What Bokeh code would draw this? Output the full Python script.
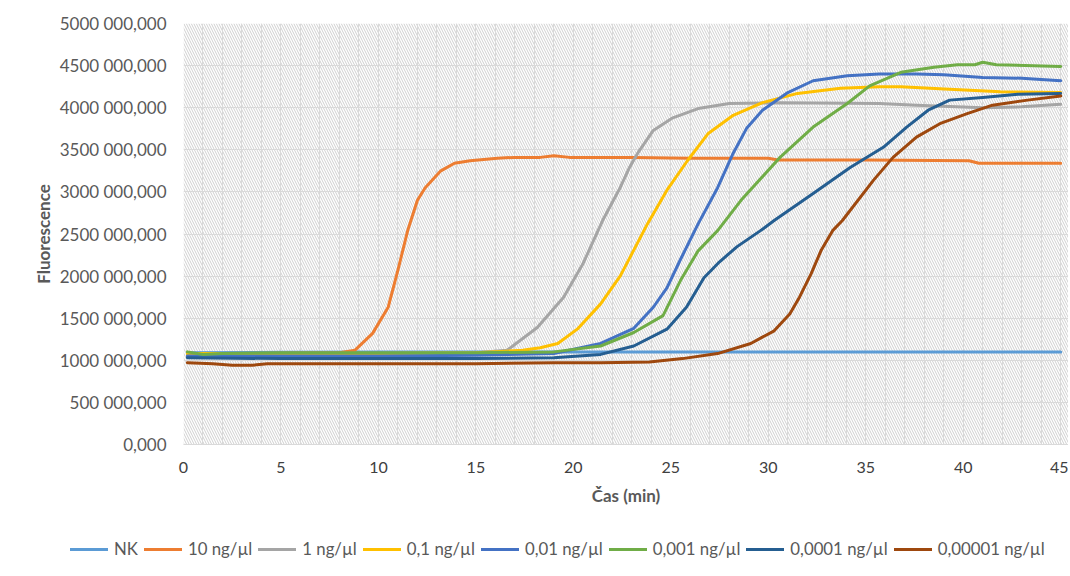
from bokeh.plotting import figure
from bokeh.layouts import column
from bokeh.models import (FixedTicker, CustomJSTickFormatter, BoxAnnotation, Div)
from bokeh.embed import file_html
from bokeh.resources import INLINE

# ---- data (time in min, fluorescence) ----
series_names = ["NK", "10 ng/µl", "1 ng/µl", "0,1 ng/µl", "0,01 ng/µl",
                "0,001 ng/µl", "0,0001 ng/µl", "0,00001 ng/µl"]
series_colors = ["#5B9BD5", "#ED7D31", "#A5A5A5", "#FFC000", "#4472C4",
                 "#70AD47", "#255E91", "#9E480E"]

t_nk = [0.2, 5, 10, 15, 20, 25, 30, 35, 40, 45]
v_nk = [1090000, 1095000, 1100000, 1100000, 1100000, 1100000, 1100000, 1100000, 1100000, 1100000]

t_10 = [0.2, 4, 8, 8.8, 9.7, 10.5, 11.0, 11.5, 12.0, 12.4, 13.2, 13.9, 14.7, 16.1,
        17, 18.3, 19.0, 19.8, 23, 26, 30, 30.5, 35, 40.3, 40.8, 45]
v_10 = [1070000, 1080000, 1090000, 1120000, 1320000, 1630000, 2070000, 2540000, 2900000,
        3050000, 3250000, 3340000, 3370000, 3400000, 3410000, 3410000, 3430000, 3410000,
        3410000, 3400000, 3400000, 3380000, 3380000, 3370000, 3340000, 3340000]

t_1 = [0.2, 5, 10, 15, 16.6, 18.15, 19.5, 20.5, 21.5, 22.4, 22.9, 23.3, 24.1, 25.1, 26.4,
       28, 30.6, 35.7, 37.6, 41, 43, 45]
v_1 = [1080000, 1080000, 1080000, 1090000, 1120000, 1390000, 1750000, 2150000, 2660000,
       3050000, 3300000, 3460000, 3730000, 3880000, 3990000, 4050000, 4060000, 4050000,
       4030000, 4000000, 4010000, 4040000]

t_01 = [0.2, 5, 10, 15, 17.4, 18.3, 19.2, 20.2, 21.4, 22.4, 22.9, 23.8, 24.8, 25.85,
        26.9, 28.2, 29.7, 31.5, 33.7, 35.7, 36.8, 39.3, 41.9, 45]
v_01 = [1080000, 1080000, 1080000, 1090000, 1120000, 1150000, 1200000, 1370000, 1670000,
        2000000, 2220000, 2620000, 3020000, 3370000, 3690000, 3910000, 4060000, 4170000,
        4230000, 4250000, 4250000, 4220000, 4190000, 4180000]

t_001 = [0.2, 5, 10, 15, 19, 21.4, 23.1, 24.1, 24.8, 25.5, 26.4, 27.4, 28.2, 28.9, 29.7,
         31.0, 32.3, 34.05, 35.7, 37.6, 39, 41, 43, 45]
v_001 = [1050000, 1050000, 1050000, 1060000, 1080000, 1200000, 1380000, 1630000, 1860000,
         2200000, 2620000, 3050000, 3460000, 3760000, 3970000, 4180000, 4320000, 4380000,
         4400000, 4400000, 4390000, 4360000, 4350000, 4320000]

t_0001 = [0.2, 1, 2, 5, 10, 15, 19, 21.4, 23.1, 24.6, 25.5, 26.4, 27.4, 28.6, 30.6, 32.3,
          34.05, 35.2, 36.8, 38.5, 39.7, 40.6, 41, 41.7, 45]
v_0001 = [1100000, 1070000, 1080000, 1090000, 1090000, 1090000, 1100000, 1170000, 1330000,
          1530000, 1950000, 2300000, 2540000, 2900000, 3410000, 3770000, 4050000, 4260000,
          4420000, 4480000, 4510000, 4510000, 4540000, 4510000, 4490000]

t_00001 = [0.2, 5, 10, 15, 19, 21.4, 23.1, 24.8, 25.8, 26.7, 27.5, 28.4, 29.6, 30.3, 32.3,
           34.2, 35.9, 37.1, 38.2, 39.3, 41, 42.8, 45]
v_00001 = [1030000, 1020000, 1020000, 1020000, 1030000, 1070000, 1170000, 1370000, 1630000,
           1980000, 2170000, 2350000, 2540000, 2660000, 2980000, 3290000, 3530000, 3770000,
           3970000, 4090000, 4120000, 4160000, 4170000]

t_000001 = [0.2, 1.5, 2.5, 3.5, 4.3, 5, 10, 15, 19, 21.4, 23.9, 25.6, 27.4, 29.1, 30.3,
            31.1, 31.6, 32.2, 32.7, 33.3, 33.8, 35.4, 36.4, 37.6, 38.8, 40.2, 41.5, 43.3, 45]
v_000001 = [970000, 960000, 940000, 940000, 960000, 960000, 960000, 960000, 970000, 970000,
            980000, 1020000, 1080000, 1200000, 1350000, 1550000, 1750000, 2030000, 2300000,
            2540000, 2660000, 3140000, 3410000, 3650000, 3810000, 3930000, 4030000, 4090000,
            4140000]

series_t = [t_nk, t_10, t_1, t_01, t_001, t_0001, t_00001, t_000001]
series_v = [v_nk, v_10, v_1, v_01, v_001, v_0001, v_00001, v_000001]

x_ticks = [0, 5, 10, 15, 20, 25, 30, 35, 40, 45]
y_ticks = [0, 500000, 1000000, 1500000, 2000000, 2500000, 3000000, 3500000, 4000000,
           4500000, 5000000]

FONT = "Lato"
GRAY = "#595959"
W = 1068

p = figure(width=W, height=512, x_range=(0, 45.4), y_range=(0, 5000000),
           output_backend="svg", toolbar_location=None,
           min_border_left=183, min_border_right=0, min_border_top=23,
           min_border_bottom=68)
p.outline_line_color = None
p.background_fill_color = "white"

hatch = BoxAnnotation(fill_color="white", fill_alpha=1, line_color=None,
                      hatch_pattern="\\", hatch_color="#cfcfcf", hatch_weight=1,
                      hatch_scale=5, level="image")
p.add_layout(hatch)

p.xgrid.ticker = FixedTicker(ticks=list(range(0, 46)))
p.xgrid.grid_line_color = "#d9d9d9"
p.xgrid.grid_line_width = 1
p.ygrid.ticker = FixedTicker(ticks=y_ticks)
p.ygrid.grid_line_color = "#d9d9d9"
p.ygrid.grid_line_width = 1

# x axis
p.xaxis.ticker = FixedTicker(ticks=x_ticks)
p.xaxis.axis_line_color = "#d9d9d9"
p.xaxis.major_tick_line_color = None
p.xaxis.minor_tick_line_color = None
p.xaxis.major_label_text_font = FONT
p.xaxis.major_label_text_font_size = "16px"
p.xaxis.major_label_text_color = "#404040"
p.xaxis.major_label_standoff = 11
p.xaxis.axis_label = "Čas (min)"
p.xaxis.axis_label_text_font = FONT
p.xaxis.axis_label_text_font_style = "bold"
p.xaxis.axis_label_text_font_size = "17px"
p.xaxis.axis_label_text_color = GRAY
p.xaxis.axis_label_standoff = 9

# y axis
p.yaxis.ticker = FixedTicker(ticks=y_ticks)
p.yaxis.axis_line_color = None
p.yaxis.major_tick_line_color = None
p.yaxis.minor_tick_line_color = None
p.yaxis.major_label_text_font = FONT
p.yaxis.major_label_text_font_size = "17px"
p.yaxis.major_label_text_color = GRAY
p.yaxis.major_label_standoff = 11
p.yaxis.formatter = CustomJSTickFormatter(code="""
    const t = Math.round(tick);
    if (t === 0) return "0,000";
    const th = Math.floor(t / 1000);
    const r = t % 1000;
    return (th > 0 ? th + " " + String(r).padStart(3, "0") : String(r)) + ",000";
""")
p.yaxis.axis_label = "Fluorescence"
p.yaxis.axis_label_text_font = FONT
p.yaxis.axis_label_text_font_style = "bold"
p.yaxis.axis_label_text_font_size = "17px"
p.yaxis.axis_label_text_color = GRAY
p.yaxis.axis_label_standoff = 3

for col, ts, vs in zip(series_colors, series_t, series_v):
    p.line(ts, vs, line_color=col, line_width=3, line_join="round", line_cap="round")

# ---- legend strip below the chart (HTML) ----
entries = []
for name, col in zip(series_names, series_colors):
    entries.append(
        f'<span style="display:inline-flex;align-items:center;margin-right:6px;">'
        f'<span style="display:inline-block;width:38px;height:3px;background:{col};'
        f'margin-right:6px;"></span>'
        f'<span>{name}</span></span>'
    )
legend_html = (
    f'<div style="display:flex;align-items:center;white-space:nowrap;'
    f'padding-left:70px;padding-top:37px;height:20px;line-height:20px;'
    f'font-family:Lato;font-size:16.8px;color:{GRAY};">' + "".join(entries) + '</div>'
)
legend_div = Div(text=legend_html, width=W, height=62,
                 styles={"margin": "0", "padding": "0"})

layout = column(p, legend_div, spacing=0)
open("out.html", "w").write(file_html(layout, INLINE))
